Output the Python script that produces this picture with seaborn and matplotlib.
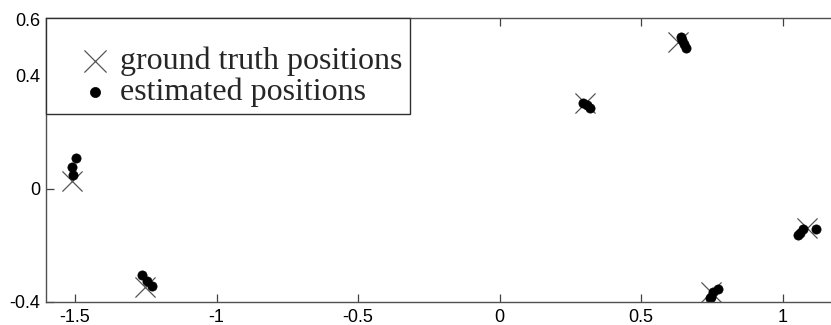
import seaborn as sns
import matplotlib.pyplot as plt
import pandas as pd

# ground truth positions (x markers)
gt_x = [-1.51, -1.253, 0.302, 0.631, 0.747, 1.086]
gt_y = [0.028, -0.346, 0.304, 0.519, -0.364, -0.138]

# estimated positions (dots)
est_x = [-1.497, -1.511, -1.508,
         -1.263, -1.246, -1.228,
         0.295, 0.309, 0.320,
         0.641, 0.644, 0.651, 0.659,
         0.772, 0.754, 0.747, 0.745,
         1.055, 1.062, 1.072, 1.118]
est_y = [0.110, 0.078, 0.049,
         -0.304, -0.325, -0.343,
         0.304, 0.297, 0.286,
         0.537, 0.527, 0.512, 0.498,
         -0.353, -0.364, -0.382, -0.385,
         -0.163, -0.155, -0.141, -0.141]

xticks = [-1.5, -1, -0.5, 0, 0.5, 1]
yticks = [-0.4, 0, 0.4, 0.6]

sns.set_theme(style="ticks", rc={"xtick.direction": "in", "ytick.direction": "in"})
plt.rcParams['font.family'] = ['Liberation Sans', 'DejaVu Sans']

gtDF = pd.DataFrame({"x": gt_x, "y": gt_y})
estDF = pd.DataFrame({"x": est_x, "y": est_y})

fig = plt.figure(figsize=(8.31, 3.25), dpi=100)
ax = fig.add_axes([0.0554, 0.0708, 0.9446, 0.8738])

sns.scatterplot(x="x", y="y", data=gtDF, ax=ax, marker="x", s=210,
                color="#555555", linewidth=0.9, label="ground truth positions")
sns.scatterplot(x="x", y="y", data=estDF, ax=ax, marker="o", s=44,
                color="black", edgecolor="black", linewidth=0.5,
                label="estimated positions")

ax.set_xlim(-1.6025, 1.171)
ax.set_ylim(-0.4, 0.604)
ax.set_xticks(xticks)
ax.set_xticklabels(["-1.5", "-1", "-0.5", "0", "0.5", "1"])
ax.set_yticks(yticks)
ax.set_yticklabels(["-0.4", "0", "0.4", "0.6"])
ax.set_xlabel("")
ax.set_ylabel("")
ax.tick_params(axis="both", labelsize=13, length=6, width=0.9, color="#404040",
               top=True, labelcolor="black")
ax.tick_params(axis="x", pad=5)
ax.tick_params(axis="y", pad=4)
for side in ["left", "bottom", "top"]:
    ax.spines[side].set_color("#505050")
    ax.spines[side].set_linewidth(1.0)
ax.spines["right"].set_visible(False)

# blank title adds the extra space above the entries
leg = ax.legend(loc="upper left", borderaxespad=0, fancybox=False, framealpha=1,
                edgecolor="#303030", prop={"family": "Liberation Serif", "size": 23},
                title=" ", title_fontsize=15.5,
                handletextpad=-0.49, borderpad=0.22, labelspacing=0.03, handlelength=2.6,
                markerscale=1.1)
leg.get_frame().set_linewidth(1.0)

fig.savefig("out.png", dpi=100)
